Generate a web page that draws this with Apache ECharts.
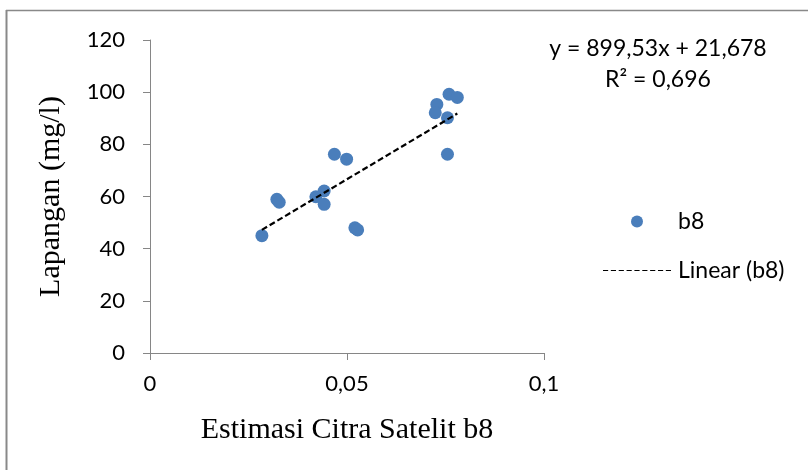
<!DOCTYPE html>
<html>
<head>
<meta charset="utf-8">
<script src="https://cdn.jsdelivr.net/npm/echarts@6/dist/echarts.min.js"></script>
<style>
  html, body { margin: 0; padding: 0; background: #fff; overflow: hidden; }
  #main { width: 808px; height: 470px; }
</style>
</head>
<body>
<div id="main"></div>
<script>
// data
var estimasiB8 = [0.0284, 0.0322, 0.0328, 0.0421, 0.0442, 0.0442, 0.0468, 0.0499, 0.0520, 0.0527, 0.0728, 0.0724, 0.0759, 0.0780, 0.0755, 0.0755];
var lapangan   = [45.0, 58.9, 57.8, 59.9, 62.1, 57.0, 76.2, 74.3, 48.0, 47.2, 95.3, 92.1, 99.2, 98.0, 90.2, 76.2];
// trendline ends (Excel linear fit drawn from min x to max x)
var trendX = [0.0284, 0.0780];
var trendY = [47.2, 91.8];
var xTicks = [0, 0.05, 0.1];
var yTicks = [0, 20, 40, 60, 80, 100, 120];
var eqLines = ['y = 899,53x + 21,678', 'R² = 0,696'];

var sans = 'Lato';
var serif = '"Liberation Serif", "Times New Roman", serif';

var pts = estimasiB8.map(function (x, i) { return [x, lapangan[i]]; });
var trendPts = trendX.map(function (x, i) { return [x, trendY[i]]; });

// dashed legend icon
var dashPath = 'path://';
for (var k = 0; k < 9; k++) {
    dashPath += 'M' + (k * 7.6) + ',0h5v1h-5z ';
}

var myChart = echarts.init(document.getElementById('main'));

var option = {
    animation: false,
    backgroundColor: '#fff',
    grid: {
        left: 150,
        top: 40,
        width: 394,
        height: 313,
        containLabel: false
    },
    legend: [
        {
            data: [{name: 'b8', icon: 'circle'}],
            left: 631,
            top: 210,
            padding: 0,
            itemWidth: 12,
            itemHeight: 12,
            textStyle: {fontFamily: sans, fontSize: 23, color: '#000', padding: [0, 0, 0, 30]}
        },
        {
            data: [{name: 'Linear (b8)', icon: dashPath}],
            left: 603,
            top: 259,
            padding: 0,
            itemWidth: 68,
            itemHeight: 1.5,
            itemStyle: {color: '#000'},
            textStyle: {fontFamily: sans, fontSize: 23, color: '#000', padding: [0, 0, 0, 2]}
        }
    ],
    xAxis: {
        type: 'value',
        min: xTicks[0],
        max: xTicks[xTicks.length - 1],
        interval: 0.05,
        name: 'Estimasi Citra Satelit b8',
        nameLocation: 'middle',
        nameGap: 62,
        nameTextStyle: {fontFamily: serif, fontSize: 30, color: '#000'},
        axisLine: {lineStyle: {color: '#868686', width: 1}},
        axisTick: {show: true, length: 7, lineStyle: {color: '#868686'}},
        splitLine: {show: false},
        axisLabel: {
            margin: 20,
            fontFamily: sans,
            fontSize: 22,
            color: '#000',
            formatter: function (v) { return String(v).replace('.', ','); }
        }
    },
    yAxis: {
        type: 'value',
        min: yTicks[0],
        max: yTicks[yTicks.length - 1],
        interval: 20,
        name: 'Lapangan (mg/l)',
        nameLocation: 'middle',
        nameGap: 84,
        nameRotate: 90,
        nameTextStyle: {fontFamily: serif, fontSize: 30, color: '#000'},
        axisLine: {show: true, lineStyle: {color: '#868686', width: 1}},
        axisTick: {show: true, length: 7, lineStyle: {color: '#868686'}},
        splitLine: {show: false},
        axisLabel: {
            margin: 25,
            fontFamily: sans,
            fontSize: 22,
            color: '#000'
        }
    },
    graphic: [
        {
            type: 'line',
            shape: {x1: 6, y1: 10.5, x2: 808, y2: 10.5},
            style: {stroke: '#898989', lineWidth: 1.5},
            silent: true
        },
        {
            type: 'line',
            shape: {x1: 6.5, y1: 10, x2: 6.5, y2: 470},
            style: {stroke: '#898989', lineWidth: 2},
            silent: true
        },
        {
            type: 'text',
            x: 658, y: 49,
            style: {text: eqLines[0], fontFamily: sans, fontSize: 23, fill: '#000', textAlign: 'center', textVerticalAlign: 'middle'}
        },
        {
            type: 'text',
            x: 658, y: 80,
            style: {text: eqLines[1], fontFamily: sans, fontSize: 23, fill: '#000', textAlign: 'center', textVerticalAlign: 'middle'}
        }
    ],
    series: [
        {
            name: 'b8',
            type: 'scatter',
            symbolSize: 13,
            itemStyle: {color: '#4A7EBB', opacity: 1},
            data: pts,
            z: 2
        },
        {
            name: 'Linear (b8)',
            type: 'line',
            symbol: 'none',
            lineStyle: {color: '#000', width: 2.2, type: [6, 3]},
            itemStyle: {color: '#000'},
            data: trendPts,
            z: 3
        }
    ]
};

myChart.setOption(option);
</script>
</body>
</html>
